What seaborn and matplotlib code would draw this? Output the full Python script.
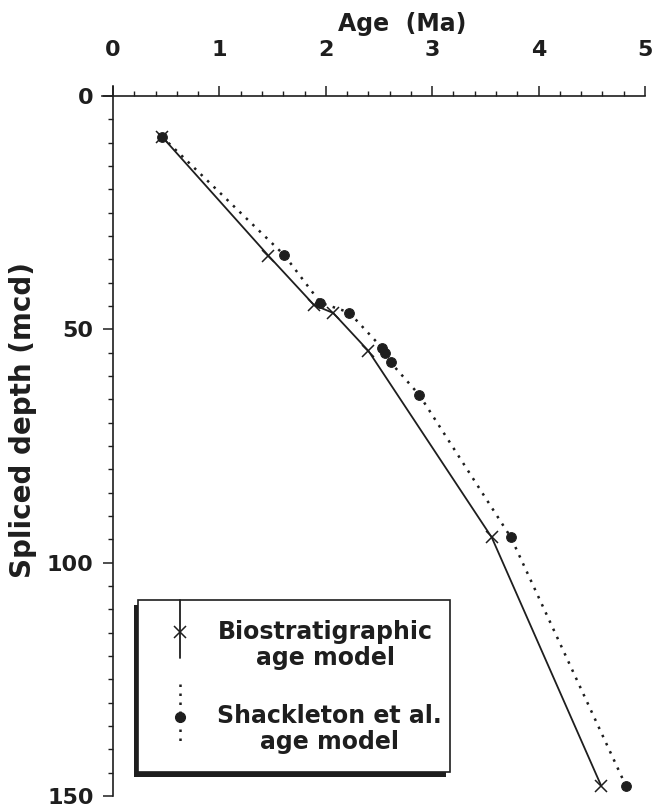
import matplotlib
matplotlib.use("Agg")
import matplotlib.pyplot as plt
from matplotlib.patches import Rectangle
from matplotlib.lines import Line2D
from matplotlib.ticker import MultipleLocator
import seaborn as sns
import pandas as pd

# Age-depth tie points
bio_age = [0.46, 1.46, 1.89, 2.07, 2.40, 3.56, 4.59]
bio_depth = [8.7, 34.2, 44.8, 46.5, 54.6, 94.6, 147.9]

shack_age = [0.46, 1.61, 1.95, 2.22, 2.53, 2.56, 2.61, 2.88, 3.74, 4.82]
shack_depth = [8.7, 34.1, 44.3, 46.4, 54.0, 55.0, 57.1, 64.1, 94.6, 147.8]

xticks = [0, 1, 2, 3, 4, 5]
yticks = [0, 50, 100, 150]

sns.set_style("ticks")
plt.rcParams["font.family"] = ["DejaVu Sans"]
plt.rcParams["font.weight"] = "bold"

W, H = 652, 808
fig = plt.figure(figsize=(W / 100, H / 100), dpi=100)
ink = "#1e1e1e"


def fx(px):
    return px / W


def fy(py):
    return 1 - py / H


ax = fig.add_axes([fx(113), fy(796), fx(645) - fx(113), fy(96) - fy(796)])

bio = pd.DataFrame({"age": bio_age, "depth": bio_depth})
shack = pd.DataFrame({"age": shack_age, "depth": shack_depth})

sns.lineplot(data=shack, x="age", y="depth", sort=False, estimator=None, ax=ax,
             color=ink, lw=1.8, linestyle=(0, (1, 2.6)), marker="o",
             markersize=7, markeredgecolor=ink, markerfacecolor=ink,
             clip_on=False, zorder=3)
sns.lineplot(data=bio, x="age", y="depth", sort=False, estimator=None, ax=ax,
             color=ink, lw=1.3, marker="x", markersize=9, markeredgewidth=1.1,
             markeredgecolor=ink, clip_on=False, zorder=4)

ax.set_xlim(0, 5)
ax.set_ylim(150, 0)
ax.xaxis.set_ticks_position("top")
ax.xaxis.set_label_position("top")
ax.set_xticks(xticks)
ax.set_yticks(yticks)
ax.xaxis.set_minor_locator(MultipleLocator(0.2))
ax.yaxis.set_minor_locator(MultipleLocator(5))
ax.tick_params(which="major", length=7, width=1.1, color=ink, labelsize=16,
               labelcolor=ink)
ax.tick_params(which="minor", length=3.5, width=1.0, color=ink)
ax.tick_params(axis="x", which="major", pad=19)
ax.tick_params(axis="y", which="major", pad=7)
for lab in ax.get_xticklabels() + ax.get_yticklabels():
    lab.set_fontweight("bold")

for side in ["right", "bottom"]:
    ax.spines[side].set_visible(False)
for side in ["top", "left"]:
    ax.spines[side].set_linewidth(1.2)
    ax.spines[side].set_color(ink)
ax.spines["top"].set_bounds(-0.1, 5)
ax.spines["left"].set_bounds(150, -2.2)

ax.set_xlabel("Age  (Ma)", fontsize=17, fontweight="bold", color=ink)
ax.xaxis.set_label_coords(0.543, 1.093)
ax.set_ylabel("Spliced depth (mcd)", fontsize=20, fontweight="bold", color=ink)
ax.yaxis.set_label_coords(-0.142, 0.537)

# Framed key with a drop shadow at lower left
x0, y0, x1, y1 = 138, 600, 450, 772
fig.patches.append(Rectangle((fx(x0 - 4), fy(y1 + 5)), fx(x1 - x0), fy(y0) - fy(y1),
                             transform=fig.transFigure, facecolor=ink,
                             edgecolor="none", zorder=5))
fig.patches.append(Rectangle((fx(x0), fy(y1)), fx(x1 - x0), fy(y0) - fy(y1),
                             transform=fig.transFigure, facecolor="white",
                             edgecolor=ink, lw=1.2, zorder=6))
fig.lines.append(Line2D([fx(180), fx(180)], [fy(600), fy(658)],
                        transform=fig.transFigure, color=ink, lw=1.3, zorder=7))
fig.lines.append(Line2D([fx(180)], [fy(632)], transform=fig.transFigure,
                        marker="x", markersize=9, markeredgewidth=1.1,
                        color=ink, zorder=7))
fig.lines.append(Line2D([fx(180), fx(180)], [fy(684), fy(744)],
                        transform=fig.transFigure, color=ink, lw=1.8,
                        linestyle=(0, (1, 2.6)), zorder=7))
fig.lines.append(Line2D([fx(180)], [fy(717)], transform=fig.transFigure,
                        marker="o", markersize=7, color=ink, zorder=7))
fig.text(fx(325), fy(645), "Biostratigraphic\nage model", ha="center",
         va="center", fontsize=17, fontweight="bold", color=ink,
         linespacing=1.1, zorder=8)
fig.text(fx(329), fy(729), "Shackleton et al.\nage model", ha="center",
         va="center", fontsize=17, fontweight="bold", color=ink,
         linespacing=1.1, zorder=8)

fig.savefig("out.png", dpi=100, facecolor="white")
